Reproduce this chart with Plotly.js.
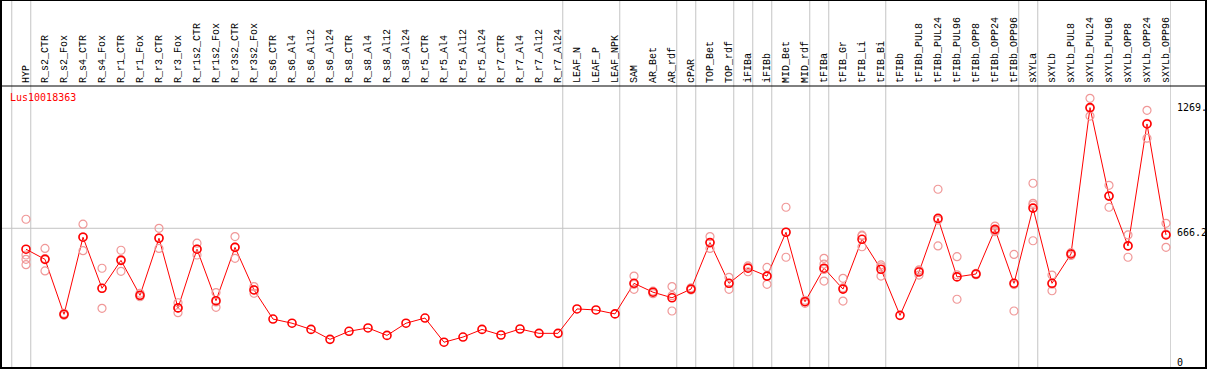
<!DOCTYPE html>
<html>
<head>
<meta charset="utf-8">
<script src="https://cdn.plot.ly/plotly-3.0.1.min.js"></script>
<style>html,body{margin:0;padding:0;background:#fff;}#chart{width:1209px;height:370px;}</style>
</head>
<body>
<div id="chart"></div>
<script>
// ---------------- data ----------------
const categories = ["HYP","R_s2_CTR","R_s2_Fox","R_s4_CTR","R_s4_Fox","R_r1_CTR","R_r1_Fox","R_r3_CTR","R_r3_Fox",
  "R_r1s2_CTR","R_r1s2_Fox","R_r3s2_CTR","R_r3s2_Fox","R_s6_CTR","R_s6_Al4","R_s6_Al12","R_s6_Al24",
  "R_s8_CTR","R_s8_Al4","R_s8_Al12","R_s8_Al24","R_r5_CTR","R_r5_Al4","R_r5_Al12","R_r5_Al24",
  "R_r7_CTR","R_r7_Al4","R_r7_Al12","R_r7_Al24","LEAF_N","LEAF_P","LEAF_NPK","SAM","AR_Bet","AR_rdf",
  "cPAR","TOP_Bet","TOP_rdf","iFIBa","iFIBb","MID_Bet","MID_rdf","tFIBa","tFIB_Gr","tFIB_Li","tFIB_Bi",
  "tFIBb","tFIBb_PUL8","tFIBb_PUL24","tFIBb_PUL96","tFIBb_OPP8","tFIBb_OPP24","tFIBb_OPP96",
  "sXYLa","sXYLb","sXYLb_PUL8","sXYLb_PUL24","sXYLb_PUL96","sXYLb_OPP8","sXYLb_OPP24","sXYLb_OPP96"];

const meanValues = [565,516,250,623,376,511,342,618,281,
  565,316,574,368,227,207,177,129,
  168,184,148,207,232,115,140,177,
  150,179,158,158,276,271,252,400,357,330,
  372,597,400,473,435,647,311,473,372,613,468,
  245,455,714,431,445,661,400,
  764,400,542,1250,822,581,1171,634];

const replicateValues = [
  [710,537,516,490],[569,460,520],[255,245,250],[686,558,625],[473,279,376],[560,458,515],[352,335,340],
  [666,569,620],[306,258,280],[594,537,565],[355,284,310],[626,521,575],[384,352,368],
  [],[],[],[],[],[],[],[],[],[],[],[],[],[],[],[],[],[],[],
  [435,371,395],[362,350,358],[384,266,340],[378,368,370],[626,569,597],[429,371,400],
  [484,456,478],[477,395,433],[768,526,647],[303,318,311],[521,411,493,467],[424,314,378],
  [629,577,633],[489,435,480],[],[440,465,460],[855,581,706],[529,323,441],[448,442],
  [677,650,656],[540,266,394],[884,787,606,779],[440,364,396],[535,548],[1295,1209,1246],
  [874,768,824],[634,526,583],[1237,1102,1174],[690,574,638]];

const groupEnds = ["HYP","R_r7_Al24","LEAF_NPK","AR_rdf","cPAR","TOP_rdf","iFIBa","iFIBb","MID_rdf",
  "tFIBa","tFIB_Bi","tFIBb_OPP96","sXYLa","sXYLb_OPP96"];

const geneName = "Lus10018363";
const axisLabels = [{v:1269.3, t:"1269."},{v:666.2, t:"666.2"},{v:0, t:"0"}];

// ---------------- layout geometry ----------------
const W=1209, H=370, L=1, R=1171, T=86, B=368;
const pxX = p => (p-L)/(R-L);
const pxY = p => (B-p)/(B-T);
const FONT = "DejaVu Sans Mono, monospace";
const TICKFONT = "Liberation Mono, monospace";

const repX=[], repY=[];
replicateValues.forEach((arr,i)=>arr.forEach(v=>{repX.push(categories[i]); repY.push(v);}));

const traces = [
  {x:categories, y:meanValues, type:'scatter', mode:'lines', hoverinfo:'skip',
   line:{color:'#ff0000', width:1}},
  {x:repX, y:repY, type:'scatter', mode:'markers', hoverinfo:'skip',
   marker:{symbol:'circle-open', size:8, color:'#f09898', line:{width:1.2, color:'#f09898'}}},
  {x:categories, y:meanValues, type:'scatter', mode:'markers',
   marker:{symbol:'circle-open', size:8, color:'#ff0000', line:{width:1.6, color:'#ff0000'}}}
];

const shapes = [];
groupEnds.forEach(name=>{
  const i = categories.indexOf(name);
  shapes.push({type:'line', xref:'x', yref:'paper', x0:i+0.25, x1:i+0.25, y0:0, y1:pxY(0),
    line:{color:'#c4c4c4', width:1}, layer:'below'});
});
shapes.push({type:'line', xref:'x', yref:'paper', x0:-0.75, x1:-0.75, y0:0, y1:pxY(0),
  line:{color:'#c4c4c4', width:1}, layer:'below'});
shapes.push({type:'line', xref:'paper', yref:'y', x0:0, x1:1, y0:axisLabels[1].v, y1:axisLabels[1].v,
  line:{color:'#c4c4c4', width:1}, layer:'below'});
shapes.push({type:'rect', xref:'paper', yref:'paper', x0:pxX(1), x1:pxX(1206), y0:pxY(368), y1:pxY(0),
  line:{color:'#000', width:2}, fillcolor:'rgba(0,0,0,0)'});
shapes.push({type:'line', xref:'paper', yref:'paper', x0:pxX(1), x1:pxX(1206), y0:1, y1:1,
  line:{color:'#000', width:1}});

const annotations = [
  {xref:'paper', yref:'paper', x:pxX(8), y:pxY(97), xanchor:'left', yanchor:'middle', showarrow:false,
   text:geneName, font:{family:FONT, size:10, color:'#ff0000'}}
];
axisLabels.forEach(a=>{
  annotations.push({xref:'paper', yref:'y', x:1, y:a.v, xanchor:'left', yanchor:'middle', xshift:4,
    yshift: a.v===0 ? 4 : -4, showarrow:false, text:a.t, font:{family:FONT, size:10, color:'#000'}});
});

const layout = {
  width:W, height:H,
  margin:{l:L, r:W-R, t:T, b:H-B, pad:0},
  paper_bgcolor:'#fff', plot_bgcolor:'#fff',
  showlegend:false,
  xaxis:{type:'category', categoryorder:'array', categoryarray:categories, side:'top',
    range:[(1-26)/19, (1171-26)/19], tickangle:-90,
    showgrid:false, zeroline:false, showline:false, ticks:'', ticklabelstandoff:2,
    tickfont:{family:TICKFONT, size:10, color:'#000'}, fixedrange:true},
  yaxis:{range:[-9.7, 1354.6], showgrid:false, zeroline:false, showline:false, showticklabels:false,
    ticks:'', fixedrange:true},
  shapes:shapes, annotations:annotations
};

Plotly.newPlot('chart', traces, layout, {displayModeBar:false, staticPlot:true});
</script>
</body>
</html>
